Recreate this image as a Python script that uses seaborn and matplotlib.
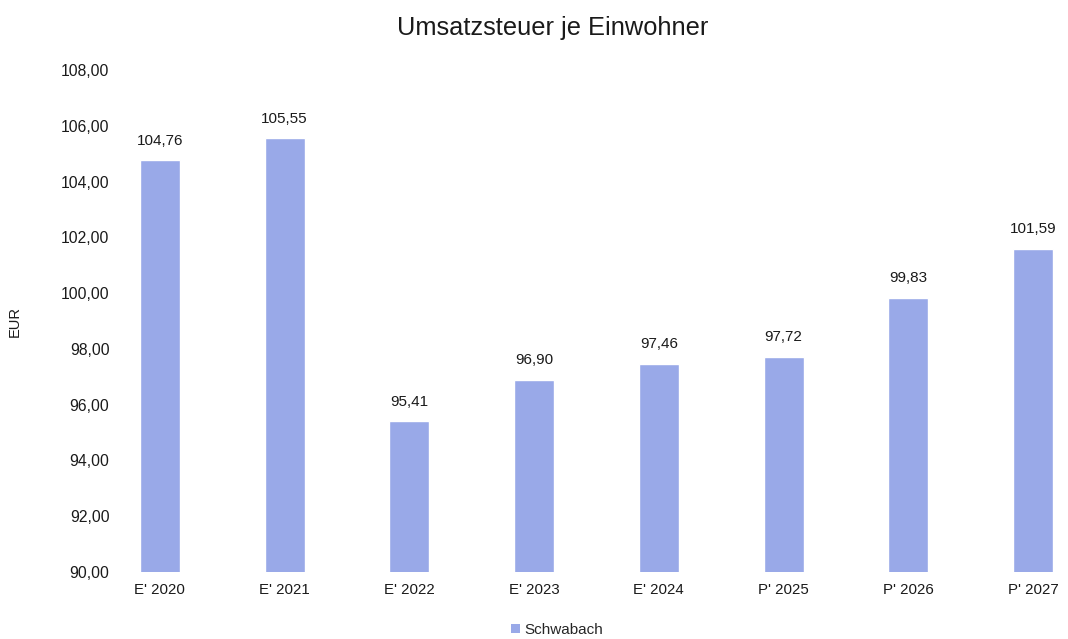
import matplotlib
matplotlib.use("Agg")
import matplotlib.pyplot as plt
import seaborn as sns
import pandas as pd
from matplotlib.patches import Patch

categories = ["E' 2020", "E' 2021", "E' 2022", "E' 2023", "E' 2024", "P' 2025", "P' 2026", "P' 2027"]
values = [104.76, 105.55, 95.41, 96.90, 97.46, 97.72, 99.83, 101.59]
series_name = "Schwabach"
y_ticks = [90, 92, 94, 96, 98, 100, 102, 104, 106, 108]

sns.set_theme(style="white")
plt.rcParams["font.family"] = ["Liberation Sans", "DejaVu Sans"]

bar_color = "#99A9E8"
text_color = "#1a1a1a"
df = pd.DataFrame({"Jahr": categories, "EUR": values})

fig = plt.figure(figsize=(10.68, 6.39), dpi=100)
ax = fig.add_axes([115 / 1068, 1 - 572 / 639, (1068 - 115) / 1068, (572 - 70) / 639])

sns.barplot(data=df, x="Jahr", y="EUR", color=bar_color, saturation=1,
            width=0.32, ax=ax)

ax.set_ylim(90, 108)
ax.set_xlim(-0.36, 7.28)
ax.set_yticks(y_ticks)
ax.set_yticklabels([f"{t:.2f}".replace(".", ",") for t in y_ticks],
                   fontsize=11.3, color=text_color)
ax.tick_params(axis="x", labelsize=10.8, labelcolor=text_color, length=0, pad=8)
ax.tick_params(axis="y", length=0, pad=4)
for s in ax.spines.values():
    s.set_visible(False)
ax.grid(False)
ax.set_xlabel("")
ax.set_ylabel("")
fig.text(15 / 1068, 1 - 322 / 639, "EUR", rotation=90, ha="center", va="center",
         fontsize=10.5, color=text_color)

for i, v in enumerate(values):
    ax.text(i, v + 0.45, f"{v:.2f}".replace(".", ","), ha="center", va="bottom",
            fontsize=11, color=text_color)

fig.text(553 / 1068, 1 - 28 / 639, "Umsatzsteuer je Einwohner", ha="center", va="center",
         fontsize=18.3, color=text_color)

handle = Patch(facecolor=bar_color, edgecolor="none")
fig.legend([handle], [series_name], loc="center", bbox_to_anchor=(557 / 1068, 1 - 630 / 639),
           frameon=False, fontsize=11, handlelength=0.6, handleheight=0.6,
           handletextpad=0.25)

fig.savefig("out.png", dpi=100)
